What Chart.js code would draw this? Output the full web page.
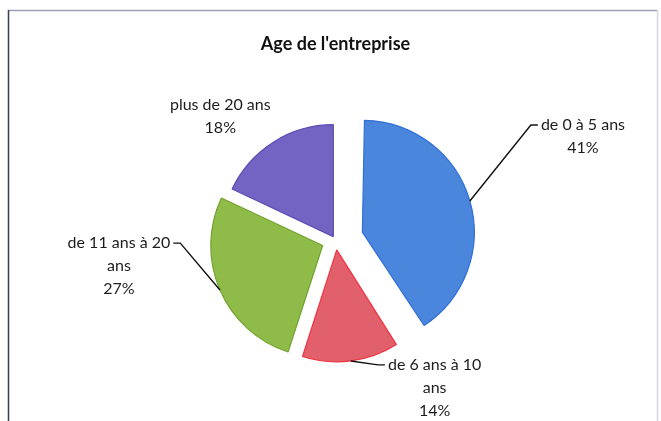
<!DOCTYPE html>
<html>
<head>
<meta charset="utf-8">
<title>Age de l'entreprise</title>
<script src="https://cdn.jsdelivr.net/npm/chart.js@4.4.1/dist/chart.umd.min.js"></script>
<style>
  html,body{margin:0;padding:0;background:#fff}
  canvas{display:block}
</style>
</head>
<body>
<canvas id="pie" width="661" height="421"></canvas>
<script>
const TITLE='Age de l\'entreprise'
const CATEGORIES=['de 0 à 5 ans','de 6 ans à 10 ans','de 11 ans à 20 ans','plus de 20 ans']
const PERCENTS=[41,14,27,18]

const FILL=['#4a86dc','#e2606c','#8fbc48','#7363c3']
const EDGE=['#2f6fd6','#f0323f','#74a232','#5b4bb0']
// how far each slice is pulled out, px (chart.js moves an arc by offset/4)
const EXPLODE=[28,10,14,4]
// label spot: angle clockwise from 12 o'clock, distance in radii, which side the text hangs
const LABEL_AT=[
  {a:60.4,d:2.08,side:'right',leader:true},
  {a:158.4,d:1.2,side:'right',leader:true},
  {a:268.9,d:1.45,side:'left',leader:true},
  {a:317,d:1.51,side:'center',leader:false},
]
const FONT='Lato, "Open Sans", sans-serif'
const LH=23

function wrap(ctx,txt,max){
  const out=[];let cur=''
  txt.split(' ').forEach(w=>{
    const t=cur?cur+' '+w:w
    if(cur&&ctx.measureText(t).width>max){out.push(cur);cur=w}else cur=t
  })
  if(cur)out.push(cur)
  return out
}

const frame={id:'frame',beforeDraw(c){
  const x=c.ctx;x.save()
  x.fillStyle='#fff';x.fillRect(0,0,c.width,c.height)
  x.lineWidth=1.5
  x.strokeStyle='#9aa0b4';x.beginPath();x.moveTo(8,10.5);x.lineTo(657,10.5);x.stroke()
  x.strokeStyle='#3a3f55';x.beginPath();x.moveTo(8.5,10);x.lineTo(8.5,421);x.stroke()
  x.strokeStyle='#d6d8e0';x.beginPath();x.moveTo(657.5,10);x.lineTo(657.5,421);x.stroke()
  x.restore()
}}

// keep exploded slices at the same radius as the rest
const flatRadius={id:'flatRadius',afterDatasetUpdate(c,args){
  const meta=args.meta,R=meta.controller.outerRadius
  meta.data.forEach(el=>{
    const off=(el.options.offset||0)/4,fix=1-Math.sin(Math.min(Math.PI,el.circumference))
    el.outerRadius=R-off*fix
  })
}}

const labels={id:'labels',afterDatasetsDraw(c){
  const ctx=c.ctx,meta=c.getDatasetMeta(0),R=meta.controller.outerRadius
  const total=PERCENTS.reduce((s,v)=>s+v,0)
  ctx.save()
  ctx.font='16px '+FONT;ctx.fillStyle='#1c1c1c';ctx.strokeStyle='#111';ctx.lineWidth=1.4
  ctx.textBaseline='middle';ctx.textAlign='center'
  meta.data.forEach((el,i)=>{
    const {x,y,startAngle,endAngle}=el.getProps(['x','y','startAngle','endAngle'],true)
    const mid=(startAngle+endAngle)/2,off=(el.options.offset||0)/4
    const ax=x+Math.cos(mid)*(off+R),ay=y+Math.sin(mid)*(off+R)
    const L=LABEL_AT[i],t=L.a*Math.PI/180
    const ex=x+Math.sin(t)*L.d*R,ey=y-Math.cos(t)*L.d*R
    const lines=wrap(ctx,CATEGORIES[i],116).concat(Math.round(PERCENTS[i]/total*100)+'%')
    const w0=ctx.measureText(lines[0]).width
    let cx=ex,top=ey
    if(L.side==='right')cx=ex+3+w0/2
    else if(L.side==='left')cx=ex-3-w0/2
    else top=ey-(lines.length-1)*LH/2
    lines.forEach((s,k)=>ctx.fillText(s,cx,top+k*LH))
    if(L.leader){
      const dx=L.side==='right'?-7:7
      ctx.beginPath();ctx.moveTo(ax,ay);ctx.lineTo(ex+dx,ey);ctx.lineTo(ex,ey);ctx.stroke()
    }
  })
  ctx.restore()
}}

new Chart(document.getElementById('pie'),{
  type:'pie',
  data:{labels:CATEGORIES,datasets:[{
    data:PERCENTS,backgroundColor:FILL,borderColor:EDGE,borderWidth:1.2,
    offset:EXPLODE.map(v=>v*4)
  }]},
  options:{
    responsive:false,animation:false,
    layout:{padding:{left:167,right:157,top:0,bottom:12.5}},
    plugins:{
      legend:{display:false},tooltip:{enabled:false},
      title:{display:true,text:TITLE,color:'#111',font:{family:FONT,size:18,weight:'bold'},padding:{top:33,bottom:16.9}}
    }
  },
  plugins:[frame,flatRadius,labels]
})
</script>
</body>
</html>
